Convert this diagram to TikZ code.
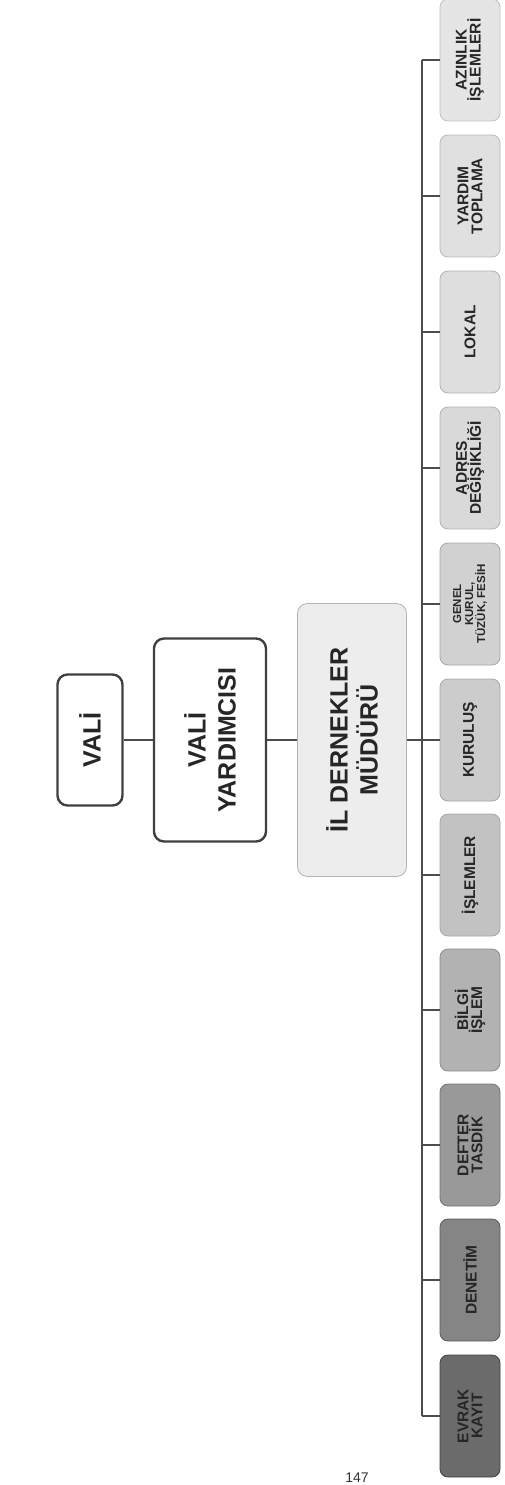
\documentclass[tikz,border=0pt]{standalone}
\usepackage{fontspec}
\setmainfont{Liberation Sans}
\usetikzlibrary{shapes,positioning,calc}
\tikzstyle{line} = [draw, black!70, line width=1.6pt]
\tikzstyle{head} = [draw=black!75, line width=2.4pt, rectangle, rounded corners=10pt, fill=white, rotate=90, align=center, text=black!85, font=\bfseries\fontsize{25}{30}\selectfont]
\tikzstyle{leaf} = [draw=black!35, line width=0.8pt, rectangle, rounded corners=8pt, rotate=90, minimum width=122pt, minimum height=60pt, inner sep=2pt, align=center, text=black!85, font=\bfseries\fontsize{15.5}{14}\selectfont]

\begin{document}
\begin{tikzpicture}[x=1pt, y=-1pt]
    \useasboundingbox (0,0) rectangle (505,1485);

    % upper levels
    \node [head, minimum width=131pt, minimum height=65pt] (vali) at (90,740) {VALİ};
    \node [head, minimum width=203pt, minimum height=112pt] (yard) at (210,740) {VALİ\\YARDIMCISI};
    \node [head, draw=black!30, line width=0.8pt, fill=black!7, minimum width=273pt, minimum height=109pt] (mud) at (352,740) {İL DERNEKLER\\MÜDÜRÜ};
    \coordinate (bus) at (422,740);

    % units
    \node [leaf, fill=black!58, draw=black!75] (evrak) at (470,1416) {EVRAK\\KAYIT};
    \node [leaf, fill=black!48, draw=black!65] (denetim) at (470,1280) {DENETİM};
    \node [leaf, fill=black!40, draw=black!55] (defter) at (470,1145) {DEFTER\\TASDİK};
    \node [leaf, fill=black!30, draw=black!45] (bilgi) at (470,1010) {BİLGİ\\İŞLEM};
    \node [leaf, fill=black!24] (islem) at (470,875) {İŞLEMLER};
    \node [leaf, fill=black!20] (kurulus) at (470,740) {KURULUŞ};
    \node [leaf, fill=black!18, font=\bfseries\fontsize{11.5}{12}\selectfont] (genel) at (470,604) {GENEL\\KURUL,\\TÜZÜK, FESİH};
    \node [leaf, fill=black!15, draw=black!30] (adres) at (470,468) {ADRES\\DEĞİŞİKLİĞİ};
    \node [leaf, fill=black!13, draw=black!30] (lokal) at (470,332) {LOKAL};
    \node [leaf, fill=black!12, draw=black!28] (yardim) at (470,196) {YARDIM\\TOPLAMA};
    \node [leaf, fill=black!10, draw=black!25] (azinlik) at (470,60) {AZINLIK\\İŞLEMLERİ};

    \node [font=\fontsize{14}{14}\selectfont, text=black!80, anchor=south, inner sep=1pt] (sayfa) at (357,1484) {147};

    \path [line] (vali) -- (yard);
    \path [line] (yard) -- (mud);
    \path [line] (mud) -- (bus);
    \path [line, line width=1.4pt] (bus |- azinlik) -- (bus |- evrak);
    \path [line] (bus |- evrak) -- (evrak);
    \path [line] (bus |- denetim) -- (denetim);
    \path [line] (bus |- defter) -- (defter);
    \path [line] (bus |- bilgi) -- (bilgi);
    \path [line] (bus |- islem) -- (islem);
    \path [line] (bus |- kurulus) -- (kurulus);
    \path [line] (bus |- genel) -- (genel);
    \path [line] (bus |- adres) -- (adres);
    \path [line] (bus |- lokal) -- (lokal);
    \path [line] (bus |- yardim) -- (yardim);
    \path [line] (bus |- azinlik) -- (azinlik);
\end{tikzpicture}
\end{document}
